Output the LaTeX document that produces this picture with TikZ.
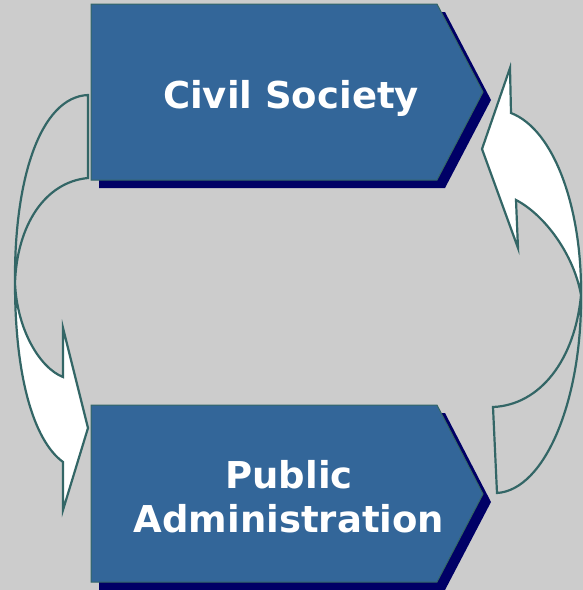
\documentclass[tikz,border=0pt]{standalone}
\usepackage{fontspec}
\setsansfont{DejaVu Sans}
\usepackage{tikz}
\usetikzlibrary{positioning, calc}
\definecolor{backgray}{HTML}{CCCCCC}
\definecolor{boxblue}{HTML}{336699}
\definecolor{navyshade}{HTML}{000066}
\definecolor{edgeteal}{HTML}{336666}
\tikzset{
    banner/.style = {fill=boxblue, draw=edgeteal, line width=1pt},
    bannershadow/.style = {fill=navyshade},
    loopline/.style = {draw=edgeteal, line width=2.2pt, line join=miter},
    loopfront/.style = {fill=white},
    boxtext/.style = {text=white, font=\sffamily\bfseries\fontsize{37}{44}\selectfont,
        align=center, inner sep=0pt},
}

\begin{document}
\begin{tikzpicture}[x=1pt,y=-1pt]
        \fill[backgray] (0,0) rectangle (583,590);
        \useasboundingbox (0,0) rectangle (583,590);
        % shadows
        \foreach \top/\mid/\bot in {4/92/180, 405/494/582}{
            \fill[bannershadow, shift={(8,8)}] (91,\top) -- (437,\top) -- (483,\mid) -- (437,\bot) -- (91,\bot) -- cycle;
        }
        % boxes
        \foreach \top/\mid/\bot in {4/92/180, 405/494/582}{
            \draw[banner] (91,\top) -- (437,\top) -- (483,\mid) -- (437,\bot) -- (91,\bot) -- cycle;
        }
        \node[boxtext, anchor=base] (civil) at (291,108) {Civil Society};
        \node[boxtext] (public) at (289,497) {Public\\Administration};
        % left loop, going down
        \coordinate (lcross) at (15,283);
        \fill[loopfront] (lcross) .. controls (15,375) and (33,440) .. (63,462)
            -- (63,510) -- (88,428) -- (63,328) -- (63,377)
            .. controls (40,368) and (17,330) .. (lcross) -- cycle;
        \draw[loopline] (88,95) .. controls (40,97) and (14,180) .. (lcross)
            .. controls (15,375) and (33,440) .. (63,462)
            -- (63,510) -- (88,428) -- (63,328) -- (63,377)
            .. controls (40,368) and (17,330) .. (lcross)
            .. controls (17,225) and (45,182) .. (88,178) -- cycle;
        % right loop, going up
        \coordinate (rcross) at (581,295);
        \fill[loopfront] (rcross) .. controls (582,210) and (555,130) .. (511,113)
            -- (510,68) -- (482,149) -- (518,248) -- (516,200)
            .. controls (545,215) and (574,255) .. (rcross) -- cycle;
        \draw[loopline] (497,493) .. controls (545,490) and (582,400) .. (rcross)
            .. controls (582,210) and (555,130) .. (511,113)
            -- (510,68) -- (482,149) -- (518,248) -- (516,200)
            .. controls (545,215) and (574,255) .. (rcross)
            .. controls (575,360) and (540,405) .. (493,407) -- cycle;
\end{tikzpicture}
\end{document}
